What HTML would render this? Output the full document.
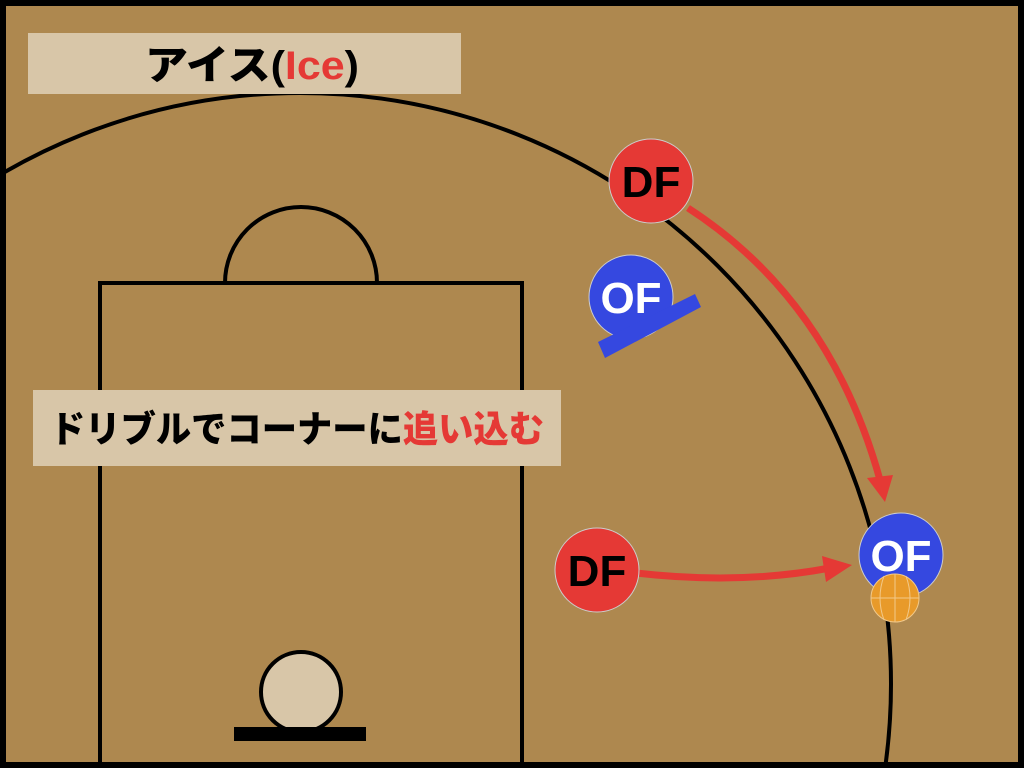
<!DOCTYPE html><html><head><meta charset="utf-8"><style>html,body{margin:0;overflow:hidden;width:1024px;height:768px}svg{display:block}text{font-family:"Liberation Sans","Noto Sans CJK JP",sans-serif;font-weight:900}</style></head><body>
<svg width="1024" height="768" viewBox="0 0 1024 768">
<rect width="1024" height="768" fill="#000"/>
<rect x="6" y="6" width="1012" height="756" fill="#AE884F"/>
<clipPath id="c"><rect x="6" y="6" width="1012" height="756"/></clipPath>
<g clip-path="url(#c)" fill="none" stroke="#000" stroke-width="4">
<circle cx="300" cy="684" r="591"/>
<rect x="100" y="283" width="422" height="520"/>
<path d="M225 283 A76 76 0 0 1 377 283"/>
</g>
<circle cx="301" cy="692" r="40" fill="#D8C6A8" stroke="#000" stroke-width="4"/>
<rect x="234" y="727" width="132" height="14" fill="#000"/>
<rect x="28" y="33" width="433" height="61" fill="#D8C6A8"/>
<text x="252" y="79" font-size="40" text-anchor="middle" textLength="214" lengthAdjust="spacingAndGlyphs">アイス(<tspan fill="#E53935">Ice</tspan>)</text>
<rect x="33" y="390" width="528" height="76" fill="#D8C6A8"/>
<text x="297" y="442" font-size="37" text-anchor="middle" textLength="494" lengthAdjust="spacingAndGlyphs">ドリブルでコーナーに<tspan fill="#E53935">追い込む</tspan></text>
<g stroke="#E53935" stroke-width="7" fill="none">
<path d="M688 208 Q830 300 880 480"/>
<path d="M636 573 Q740 585 830 568"/>
</g>
<polygon points="867,478 893,475 885,502" fill="#E53935"/>
<polygon points="822,556 852,565 826,582" fill="#E53935"/>
<circle cx="651" cy="181" r="42" fill="#E53935" stroke="#ccc" stroke-width="1"/>
<text x="651" y="197" font-size="44" text-anchor="middle" fill="#000">DF</text>
<circle cx="597" cy="570" r="42" fill="#E53935" stroke="#ccc" stroke-width="1"/>
<text x="597" y="586" font-size="44" text-anchor="middle" fill="#000">DF</text>
<circle cx="631" cy="297" r="42" fill="#3548E0" stroke="#ccc" stroke-width="1"/>
<polygon points="598,342 695,294 701,307 605,358" fill="#3548E0"/>
<text x="631" y="313" font-size="44" text-anchor="middle" fill="#fff">OF</text>
<circle cx="901" cy="555" r="42" fill="#3548E0" stroke="#ccc" stroke-width="1"/>
<text x="901" y="571" font-size="44" text-anchor="middle" fill="#fff">OF</text>
<circle cx="895" cy="598" r="24" fill="#E89A2A" stroke="#f2c98a" stroke-width="1"/>
<g stroke="#f2c98a" stroke-width="1" fill="none"><path d="M871 598H919M895 574V622M884 576Q876 598 884 620M906 576Q914 598 906 620"/></g>
</svg></body></html>
